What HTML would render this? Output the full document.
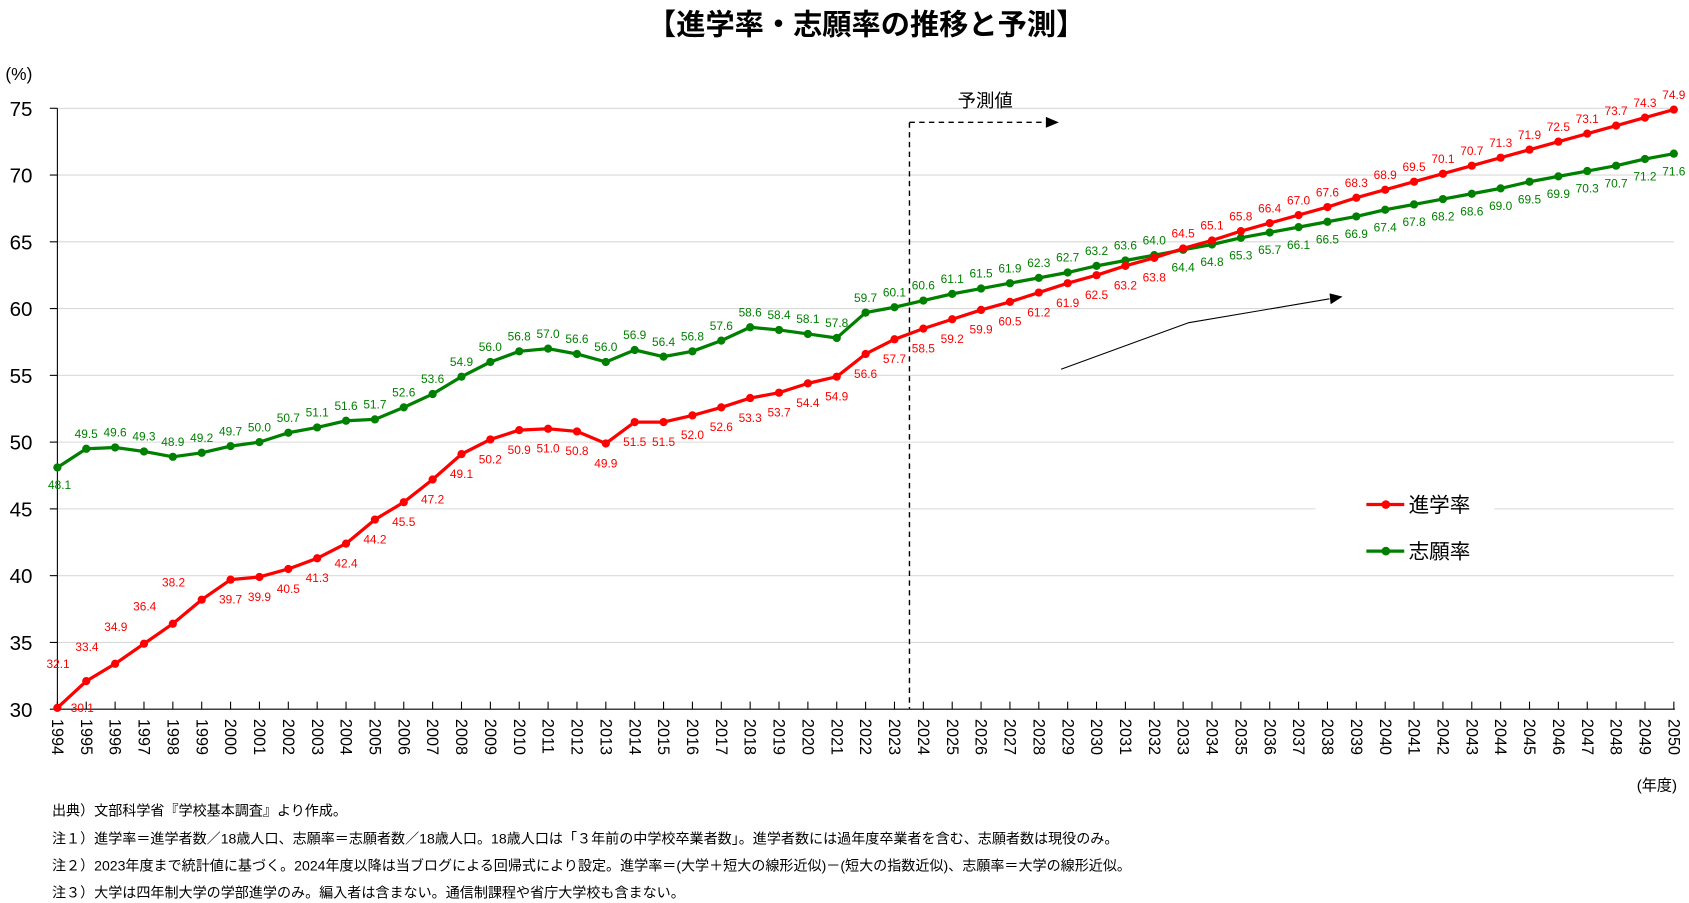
<!DOCTYPE html>
<html><head><meta charset="utf-8"><style>
html,body{margin:0;padding:0;background:#fff;}
svg{display:block;font-family:"Liberation Sans","Noto Sans CJK JP",sans-serif;}
</style></head><body>
<svg id="chart" width="1689" height="903" viewBox="0 0 1560 834" preserveAspectRatio="none" xmlns="http://www.w3.org/2000/svg">
<text x="800" y="32" text-anchor="middle" font-size="27" font-weight="bold" fill="#000">【進学率・志願率の推移と予測】</text>
<text x="5" y="74" font-size="16" fill="#000">(%)</text>
<text x="1549" y="730" text-anchor="end" font-size="14" fill="#000">(年度)</text>
<g id="grid"></g>
<g id="axes"></g>
<g id="anno">
<line x1="840" y1="113" x2="840" y2="655" stroke="#000" stroke-width="1.3" stroke-dasharray="5,4"/>
<line x1="840" y1="113" x2="966" y2="113" stroke="#000" stroke-width="1.3" stroke-dasharray="5,4"/>
<polygon points="966,108 978,113 966,118" fill="#000"/>
<text x="910" y="99" text-anchor="middle" font-size="17" fill="#000">予測値</text>
<polyline points="980,341 1098,298 1228,276" fill="none" stroke="#000" stroke-width="1"/>
<polygon points="1228,271 1240,274 1229,281" fill="#000"/>
</g>
<g id="series"></g>
<rect x="1215" y="440" width="165" height="90" fill="#fff"/>
<g><line x1="1262" y1="466" x2="1297" y2="466" stroke="#ff0000" stroke-width="3"/><circle cx="1280" cy="466" r="4" fill="#ff0000"/><text x="1301" y="473" font-size="19" fill="#000">進学率</text></g>
<g><line x1="1262" y1="509" x2="1297" y2="509" stroke="#008000" stroke-width="3"/><circle cx="1280" cy="509" r="4" fill="#008000"/><text x="1301" y="516" font-size="19" fill="#000">志願率</text></g>
<g font-size="13" fill="#000">
<text x="48" y="753">出典）文部科学省『学校基本調査』より作成。</text>
<text x="48" y="779">注１）進学率＝進学者数／18歳人口、志願率＝志願者数／18歳人口。18歳人口は「３年前の中学校卒業者数」。進学者数には過年度卒業者を含む、志願者数は現役のみ。</text>
<text x="48" y="804">注２）2023年度まで統計値に基づく。2024年度以降は当ブログによる回帰式により設定。進学率＝(大学＋短大の線形近似)－(短大の指数近似)、志願率＝大学の線形近似。</text>
<text x="48" y="829">注３）大学は四年制大学の学部進学のみ。編入者は含まない。通信制課程や省庁大学校も含まない。</text>
</g>
</svg>
<script>
const years = [];
for (let y = 1994; y <= 2050; y++) years.push(y);
const shingaku = [30.1,32.1,33.4,34.9,36.4,38.2,39.7,39.9,40.5,41.3,42.4,44.2,45.5,47.2,49.1,50.2,50.9,51.0,50.8,49.9,51.5,51.5,52.0,52.6,53.3,53.7,54.4,54.9,56.6,57.7,58.5,59.2,59.9,60.5,61.2,61.9,62.5,63.2,63.8,64.5,65.1,65.8,66.4,67.0,67.6,68.3,68.9,69.5,70.1,70.7,71.3,71.9,72.5,73.1,73.7,74.3,74.9];
const shigan = [48.1,49.5,49.6,49.3,48.9,49.2,49.7,50.0,50.7,51.1,51.6,51.7,52.6,53.6,54.9,56.0,56.8,57.0,56.6,56.0,56.9,56.4,56.8,57.6,58.6,58.4,58.1,57.8,59.7,60.1,60.6,61.1,61.5,61.9,62.3,62.7,63.2,63.6,64.0,64.4,64.8,65.3,65.7,66.1,66.5,66.9,67.4,67.8,68.2,68.6,69.0,69.5,69.9,70.3,70.7,71.2,71.6];
const yTicks = [30,35,40,45,50,55,60,65,70,75];

const X0 = 53, X1 = 1546, Y30 = 655, Y75 = 100;
const xs = i => X0 + (X1 - X0) * i / (years.length - 1);
const ys = v => Y30 + (Y75 - Y30) * (v - 30) / 45;
const NS = "http://www.w3.org/2000/svg";
function mk(tag, attrs, parent) { const e = document.createElementNS(NS, tag); for (const k in attrs) e.setAttribute(k, attrs[k]); parent.appendChild(e); return e; }

const grid = document.getElementById('grid');
yTicks.forEach(t => {
  if (t > 30) {
    const gl = mk('line', {x1: X0, x2: X1, y1: ys(t), y2: ys(t), stroke: '#d9d9d9', 'stroke-width': 1}, grid);
    
    
  }
  const tl = mk('text', {x: 30, y: ys(t) + 7, 'text-anchor': 'end', 'font-size': 19, fill: '#000'}, grid);
  tl.textContent = t;
  
  
  mk('line', {x1: X0 - 7, x2: X0, y1: ys(t), y2: ys(t), stroke: '#000', 'stroke-width': 1}, grid);
});
const axes = document.getElementById('axes');
mk('line', {x1: X0, x2: X0, y1: Y75, y2: Y30, stroke: '#000', 'stroke-width': 1}, axes);
mk('line', {x1: X0, x2: X1 + 1, y1: Y30, y2: Y30, stroke: '#000', 'stroke-width': 1}, axes);
years.forEach((yr, i) => {
  const x = xs(i);
  mk('line', {x1: x, x2: x, y1: Y30 - 7, y2: Y30, stroke: '#000', 'stroke-width': 1}, axes);
  const t = mk('text', {x: 0, y: 0, 'font-size': 15, fill: '#000', transform: `translate(${x - 5},${Y30 + 9}) rotate(90)`}, axes);
  t.textContent = yr;
  
  
});

const seriesG = document.getElementById('series');
function drawSeries(vals, color, name, labelPos) {
  const g = mk('g', {}, seriesG);
  
  
  const pts = vals.map((v, i) => xs(i) + ',' + ys(v)).join(' ');
  const pl = mk('polyline', {points: pts, fill: 'none', stroke: color, 'stroke-width': 3, 'stroke-linejoin': 'round'}, g);
  
  
  vals.forEach((v, i) => {
    const c = mk('circle', {cx: xs(i), cy: ys(v), r: 3.8, fill: color}, g);
    
    
    const [dx, dy] = labelPos(i);
    const t = mk('text', {x: xs(i) + dx, y: ys(v) + dy, 'text-anchor': 'middle', 'font-size': 11, fill: color}, g);
    t.textContent = v.toFixed(1);
    
    
  });
}
drawSeries(shigan, '#008000', 'shigan', i => i === 0 ? [2, 20] : (i < 39 ? [0, -10] : [0, 20]));
drawSeries(shingaku, '#ff0000', 'shingaku', i => i === 0 ? [23, 4] : (i < 6 ? [-26, -12] : (i < 39 ? [0, 22] : [0, -10])));
</script>
</body></html>
